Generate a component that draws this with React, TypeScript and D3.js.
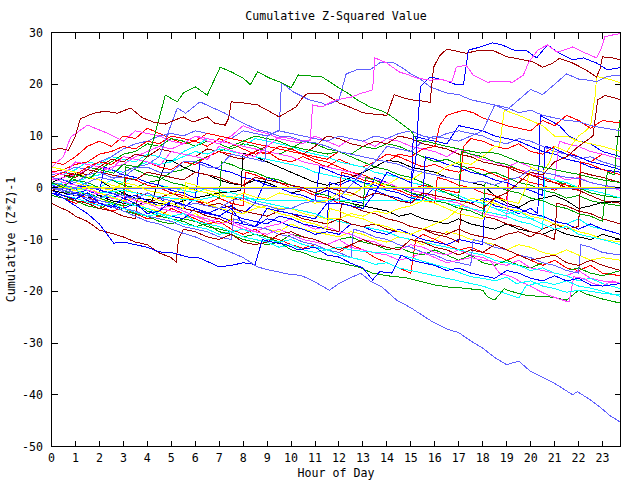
import React from 'react';
import * as d3 from 'd3';

const chartTitle = 'Cumulative Z-Squared Value';
const xTitle = 'Hour of Day';
const yTitle = 'Cumulative (Z*Z)-1';
const hourTicks = [0, 1, 2, 3, 4, 5, 6, 7, 8, 9, 10, 11, 12, 13, 14, 15, 16, 17, 18, 19, 20, 21, 22, 23];
const valueTicks = [30, 20, 10, 0, -10, -20, -30, -40, -50];

// [hour, cumulative value]
const band22 = [[0,5],[0.5,4.5],[1,6],[1.5,8],[2,9],[2.5,8],[3,10],[3.5,9.5],[4,11.5],[4.5,10.5],[5,9.5],[5.5,8.5],[6,9],[6.5,8],[7,9.5],[7.5,8.5],[8,7.5],[8.5,6.5],[9,7],[9.5,5.5],[10,5],[10.5,6],[11,5],[11.5,4],[12,5.5],[12.5,4.5],[13,4],[13.5,5],[14,6.5],[14.5,6],[15,5],[15.5,4],[16,4.5],[16.5,3.5],[17,3],[17.5,4],[18,3.5],[18.5,2.5],[19,1.5],[19.5,2],[20,1],[20.5,0.5],[21,-0.5],[21.5,1],[22,0],[22.5,-1],[23,-1.5],[23.75,-2]];
const band23 = [[0,2],[0.5,3],[1,2.5],[1.5,4],[2,3.5],[2.5,5],[3,6.5],[3.5,7],[4,8.5],[4.5,8],[5,9.5],[5.5,9],[6,8],[6.5,9],[7,8.5],[7.5,7.5],[8,8.5],[8.5,8],[9,7],[9.5,6.5],[10,7.5],[10.5,9],[11,8.5],[11.5,7.5],[12,7],[12.5,6.5],[13,8],[13.5,7.5],[14,8.5],[14.5,8],[15,7],[15.5,6],[16,5],[16.5,5.5],[17,4.5],[17.5,3.5],[18,2.5],[18.5,3],[19,2],[19.5,1],[20,0.5],[20.5,-0.5],[21,-1],[21.5,-2],[22,-1.5],[22.5,-2.5],[23,-3],[23.75,-3.5]];
const band24 = [[0,0.5],[0.5,-0.5],[1,-1],[1.5,-0.5],[2,-1.5],[2.5,-2],[3,-1],[3.5,-2.5],[4,-3],[4.5,-2],[5,-3.5],[5.5,-4],[6,-2],[6.5,-3],[7,-4],[7.5,-3.5],[8,-5],[8.5,-3],[9,2],[9.5,1],[10,0.5],[10.5,-0.5],[11,-1.5],[11.5,-0.5],[12,-1.5],[12.5,-2.5],[13,-3],[13.5,2],[14,1],[14.5,0],[15,-1],[15.5,-2],[16,0],[16.5,-1],[17,-2],[17.5,-3],[18,-2],[18.5,-3.5],[19,-4],[19.5,-5],[20,-4],[20.3,-5],[20.4,14],[20.8,13],[21.2,12],[21.6,10],[22,9],[22.5,8.5],[23,7],[23.75,6]];
const band25 = [[0,4],[0.5,6],[0.8,9.8],[1.5,12.1],[2.2,10.8],[2.75,9.6],[3,9],[3.5,11],[4,10.5],[4.5,10],[5,9],[5.5,8.5],[6,10],[6.5,9],[7,8.5],[7.5,10],[8,12],[8.5,11],[9,10.5],[9.5,9.5],[10,9],[10.5,8.5],[11,10],[11.5,9],[12,8],[12.5,9.5],[13,9],[13.5,8],[14,9.5],[14.5,9],[15,8],[15.5,7.5],[16,7],[16.5,6],[17,7.5],[17.5,6.5],[18,5.5],[18.5,5],[19,4],[19.5,5],[20,4],[20.5,3],[21,2.5],[21.5,1.5],[22,2],[22.5,1],[23,0.5],[23.75,-0.5]];
const band26 = [[0,3],[0.5,2.5],[1,3.5],[1.5,5],[2,4.5],[2.5,6],[3,5.5],[3.5,5],[4,6.5],[4.5,6],[5,5],[5.5,7],[6,8],[6.5,9.5],[7,9],[7.5,8.5],[8,8],[8.5,9.5],[9,9],[9.5,8.5],[10,8],[10.5,7],[11,6.5],[11.5,6],[12,5],[12.5,4.5],[13,4],[13.5,3],[14,2.5],[14.5,2],[15,1],[15.5,0.5],[16,-0.5],[16.5,-1],[17,-1.5],[17.5,-2.5],[18,-3],[18.5,-4],[19,-4.5],[19.5,-5.5],[20,-6],[20.5,-5.5],[21,-6.5],[21.5,-7],[22,-6],[22.5,-7.5],[23,-8],[23.75,-9]];
const band27 = [[0,1.5],[0.5,2],[1,3],[1.5,2.5],[2,4],[2.5,5.5],[3,5],[3.5,6.5],[4,6],[4.5,7.5],[5,7],[5.5,6.5],[6,6],[6.5,7.5],[7,7],[7.5,6],[8,5.5],[8.5,7],[9,8],[9.5,7.5],[10,7],[10.5,6.5],[11,8],[11.5,10],[12,9.5],[12.5,8.5],[13,8],[13.5,9],[14,8.5],[14.5,10],[15,9.5],[15.5,8.5],[16,8],[16.5,7.5],[17,6.5],[17.5,6],[18,5],[18.5,4.5],[19,4],[19.5,3],[20,2.5],[20.5,1.5],[21,1],[21.5,0],[22,-0.5],[22.5,-1.5],[23,-2.5],[23.75,-3]];
const band28 = [[0,-0.5],[0.5,-1],[1,-0.5],[1.5,-1.5],[2,-2],[2.5,-3],[3,-3.5],[3.5,-3],[4,-4],[4.5,-4.5],[5,-5.5],[5.5,-6],[6,-5],[6.5,-6.5],[7,-7],[7.5,-6],[8,-6.5],[8.5,-7.5],[9,-8],[9.5,-8.5],[10,-7],[10.5,-8],[11,-8.5],[11.5,-9],[12,-9.5],[12.5,-8.5],[13,-9],[13.5,-10],[14,-10.5],[14.5,-9.5],[15,-10],[15.5,-11],[16,-10],[16.5,-8.5],[17,-9],[17.5,-10],[18,-10.5],[18.5,-11],[19,-12],[19.5,-11],[20,-11.5],[20.5,-12.5],[21,-13],[21.5,-12],[22,-13],[22.5,-14],[23,-13.5],[23.75,-14]];
const band29 = [[0,1],[0.5,2],[1,2.7],[1.5,2],[2,1.5],[2.5,0],[3,-1],[3.5,-2],[4.2,-2.4],[4.8,5.3],[5,5.3],[5.5,4],[6,3],[6.5,2.5],[7,1.5],[7.5,0.8],[8,0.5],[8.5,1.5],[9,1],[9.5,0],[10,-1],[10.5,-0.5],[11,-1.5],[11.5,-2],[12,-2.5],[12.5,-3],[13,-3.5],[13.5,-4],[14,-4.5],[14.5,-5.5],[15,-5],[15.5,-6],[16,-6.5],[16.5,-7],[17,-6],[17.5,-7],[18,-7.5],[18.5,-8],[19,-7],[19.5,-8],[20,-8.5],[20.5,-9],[21,-8],[21.5,-9],[22,-9.5],[22.5,-10],[23,-9],[23.75,-10]];
const band30 = [[0,-0.5],[0.5,-1],[1,-1.5],[1.5,-2],[2,-1.5],[2.5,-2.5],[3,-3],[3.5,-3.5],[4,-2.5],[4.5,-3],[5,-3.5],[5.5,-2.5],[6,-2],[6.5,-1.5],[7,-1],[7.5,-0.8],[7.9,-0.5],[8,6.7],[8.5,6],[9,5],[9.5,4],[10,3],[10.5,2],[11,1],[11.5,0.5],[12,1],[12.5,2],[13,3],[13.5,4],[14,5.3],[14.5,5],[15,4],[15.5,3.5],[16,3],[16.5,2],[17,1.5],[17.5,1],[18,0.5],[18.5,-1.5],[19,-3],[19.5,-3.8],[20,-2.5],[20.5,-2],[21,-1.5],[21.5,-2.5],[22,-4],[22.5,-3.5],[23,-2.8],[23.75,-2.7]];
const band31 = [[0,-1],[0.5,-2],[1,-3],[1.5,-2.5],[2,-3.5],[2.5,-4.5],[3,-4],[3.5,-5],[4,-6],[4.5,-5.5],[5,-4],[5.5,-5],[6,-6],[6.5,-7],[7,-6.5],[7.5,-8],[8,-9],[8.5,-8],[9,-9.5],[9.5,-10],[10,-11],[10.5,-11.7],[11,-11],[11.5,-12],[12,-12.5],[12.5,-11],[13,-12],[13.5,-13.5],[14,-14.5],[14.5,-15.5],[15,-16.5],[15.2,-10],[15.5,-9],[16,-10],[16.5,-11],[17,-12],[17.5,-11.5],[18,-12.5],[18.5,-13],[19,-14],[19.5,-13],[20,-14],[20.5,-15],[21,-14],[21.5,-15.5],[22,-16],[22.5,-15],[23,-16.5],[23.75,-17]];
const band32 = [[0,-1.5],[0.5,-2],[1,-2.5],[1.5,-3.5],[2,-4],[2.5,-3],[3,-4.5],[3.5,-5],[4,-5.5],[4.5,-6.5],[5,-7],[5.5,-6],[6,-6.5],[6.5,-7.5],[7,-8],[7.5,-8.5],[8,-9.5],[8.5,-9],[9,-9.5],[9.5,-10.5],[10,-9],[10.5,-9.5],[11,-10],[11.5,-11],[12,-10],[12.5,-9.5],[13,-10.5],[13.5,-11],[14,-12],[14.5,-11.5],[15,-12.5],[15.5,-13],[16,-12],[16.5,-13],[17,-14],[17.5,-13],[18,-14.5],[18.5,-15],[19,-14],[19.5,-15],[20,-15.5],[20.5,-14.5],[21,-15],[21.5,-16],[22,-15.5],[22.5,-16.5],[23,-17],[23.75,-16]];
const band33 = [[0,-0.5],[0.5,-1.5],[1,-1],[1.5,-2.5],[2,-3],[2.5,-3.5],[3,-4],[3.5,-3],[4,-4.5],[4.5,-5],[5,-5.5],[5.5,-6],[6,-4],[6.5,-5],[7,-5.5],[7.5,-6.5],[8,-7],[8.5,-7.5],[9,-6],[9.5,-6.5],[10,-7.5],[10.5,-8],[11,-9],[11.5,-8.5],[12,-9],[12.5,-7],[13,-7.5],[13.5,-8.5],[14,-9],[14.5,-8],[15,-9],[15.5,-10],[16,-10.5],[16.5,-11],[17,-10],[17.5,-10.5],[18,-11],[18.1,-2],[18.5,-2.5],[19,-3.5],[19.5,-4],[20,-5],[20.5,-5.5],[21,-6.5],[21.5,-7],[22,-8],[22.5,-7],[23,-8],[23.75,-9]];
const band34 = [[0,0.5],[0.5,0],[1,-1],[1.5,-1.5],[2,-1],[2.5,-2],[3,-2.5],[3.5,-3.5],[4,-3],[4.5,-4],[5,-4.5],[5.5,-5],[6,-5.5],[6.5,-6.5],[7,-6],[7.5,-7],[8,-8],[8.5,-8.5],[9,-7.5],[9.5,-7],[10,-6],[10.5,-7],[11,-8],[11.5,-7.5],[12,-8.5],[12.5,-9],[13,-10],[13.5,-10.5],[14,-11.5],[14.5,-12],[15,-11],[15.5,-11.5],[16,-12.5],[16.5,-13],[17,-12],[17.5,-13],[18,-13.5],[18.5,-14.5],[19,-15],[19.5,-14],[20,-15.5],[20.5,-16],[21,-16.5],[21.5,-17],[22,-16],[22.5,-17.5],[23,-18],[23.75,-18.5]];
const band35 = [[0,0.5],[0.5,1],[1,1.5],[1.5,0.5],[2,0],[2.5,1.5],[3,1],[3.5,2],[4,1],[4.5,0.5],[5,0],[5.5,-0.5],[6,-1],[6.5,0],[7,-0.5],[7.5,-1],[8,-1.5],[8.5,-2.5],[9,-3],[9.5,-3.5],[10,-4],[10.5,-4.5],[11,-5],[11.5,-6],[12,-6.5],[12.5,-7],[13,-7.5],[13.5,-8],[14,-8.5],[14.5,-9.5],[15,-10],[15.5,-10.5],[16,-11],[16.5,-11.5],[17,-12],[17.5,-12.5],[18,-13],[18.5,-14],[19,-14.5],[19.5,-15],[20,-16],[20.5,-15.5],[21,-16.5],[21.5,-17],[22,-18],[22.5,-17.5],[23,-18.5],[23.75,-19.5]];
const band36 = [[0,-0.5],[0.5,0],[1,-1],[1.5,-1.5],[2,-2],[2.5,-1],[3,-1.5],[3.5,-2.5],[4,-3],[4.5,-2],[5,-1],[5.5,-2],[6,-2.5],[6.5,-3.5],[7,-3],[7.5,-4],[8,-4.5],[8.5,-5],[9,-5.5],[9.5,-4.5],[10,-5],[10.5,-6],[11,-6.5],[11.5,-7],[12,-6],[12.5,-7],[13,-7.5],[13.5,-7],[14,-8],[14.5,-8.5],[15,-9],[15.5,-8],[16,-8.5],[16.5,-9],[17,-8],[17.5,-9],[18,-9.5],[18.5,-10],[19,-9],[19.5,-8.5],[20,-9.5],[20.5,-8],[21,-7],[21.5,-8],[22,-7.5],[22.1,3],[22.5,2.5],[23,2],[23.75,1]];
const band37 = [[0,2.5],[0.5,3],[1,4],[1.5,3.5],[2,5],[2.5,6],[3,7.5],[3.5,8.5],[4,9],[4.5,10],[5,10.5],[5.5,10],[6,11],[6.5,10.5],[7,10],[7.5,9.5],[8,11],[8.5,10.5],[9,10],[9.5,11],[10,10.5],[10.5,10],[11,9.5],[11.5,9],[12,10],[12.5,9.5],[13,9],[13.5,10],[14,9.5],[14.5,10.5],[15,11],[15.5,10],[16,9.5],[16.5,10.5],[17,11],[17.5,10.5],[18,10],[18.5,9],[19,8.5],[19.5,9.5],[20,9],[20.5,8],[21,7],[21.5,6.5],[22,5.5],[22.5,6],[23,5],[23.75,4]];
const band38 = [[0,3],[0.5,3.5],[1,4.5],[1.5,5],[2,6.5],[2.5,7],[3,8],[3.5,7.5],[4,9],[4.5,8.5],[5,10],[5.5,9.5],[6,9],[6.5,10.5],[7,10],[7.5,9.5],[8,9],[8.5,8.5],[9,8],[9.5,7.5],[10,7],[10.5,6.5],[11,5.5],[11.5,5],[12,4],[12.5,3],[13,2.5],[13.5,1.5],[14,1],[14.5,0],[15,-0.5],[15.5,0.5],[16,0],[16.5,-0.5],[17,-1],[17.2,8],[17.5,9.5],[18,9],[18.5,8],[19,7.5],[19.5,8.5],[20,7],[20.5,6.5],[21,8],[21.5,7],[22,6],[22.5,5],[23,6.5],[23.75,5.5]];
const band39 = [[0,0],[0.5,0.5],[1,1.5],[1.5,1],[2,2],[2.5,1.5],[3,0.5],[3.5,0],[4,1],[4.5,1.5],[5,3],[5.5,3.5],[6,5],[6.5,6],[7,7],[7.5,8],[8,9],[8.5,10],[9,9.5],[9.5,9],[10,8],[10.5,7.5],[11,7],[11.5,6.5],[12,7],[12.5,6],[13,5],[13.5,4],[14,3.5],[14.5,2.5],[15,2],[15.5,1],[16,0],[16.5,-1],[17,-2],[17.1,7],[17.5,6.5],[18,6],[18.5,5],[19,4.5],[19.5,3.5],[20,3],[20.5,2],[21,1.5],[21.5,0.5],[22,0],[22.5,-1],[23,-1.5],[23.75,-2]];
const band40 = [[0,1],[0.5,0],[1,-0.5],[1.5,0.5],[2,-0.5],[2.5,-1],[3,-2],[3.5,-1.5],[4,-2.5],[4.5,-3.5],[5,-3],[5.5,-4],[6,-4.5],[6.5,-5],[7,-4],[7.5,-5],[8,-6],[8.5,-6.5],[9,-7],[9.5,-5.5],[10,-6],[10.5,-7],[11,-7.5],[11.5,-8],[11.6,1],[12,0.5],[12.5,1.5],[13,0],[13.5,-0.5],[14,-1.5],[14.5,-2],[15,-3],[15.1,10],[15.5,9.5],[16,9],[16.5,8.5],[17,12],[17.5,11.5],[18,11],[18.5,10],[19,9.5],[19.5,9],[20,8],[20.5,7],[21,6.5],[21.5,5.5],[22,5],[22.5,4],[23,3.5],[23.75,3]];
const band41 = [[0,1.5],[0.5,2],[1,2.5],[1.5,3.5],[2,3],[2.5,4],[3,4.5],[3.5,6],[4,7],[4.5,8],[5,7.5],[5.5,8.5],[6,10],[6.5,9.5],[7,9],[7.5,8.5],[8,8],[8.5,7.5],[9,7],[9.5,6.5],[10,6],[10.5,5],[11,4.5],[11.5,4],[12,3.5],[12.5,3],[13,2],[13.5,1.5],[14,1],[14.5,0],[15,-0.5],[15.5,-1],[16,-2],[16.5,-2.5],[17,-3],[17.5,-4],[18,-5],[18.5,-5.5],[19,-6],[19.1,4],[19.5,3.5],[20,3],[20.5,2],[21,1.5],[21.2,9],[21.5,8.5],[22,8],[22.5,7],[23,6.5],[23.75,5.5]];
const band42 = [[0,2],[0.5,1.5],[1,1],[1.5,2],[2,2.5],[2.5,3.5],[3,3],[3.5,4],[4,5],[4.5,4.5],[5,5],[5.5,6],[6,7],[6.5,6.5],[7,7.5],[7.5,7],[8,6.5],[8.5,6],[9,5.5],[9.5,5],[10,4.5],[10.5,4],[11,3],[11.5,2.5],[12,2],[12.5,1.5],[13,1],[13.5,0],[14,-0.5],[14.5,-1],[15,-2],[15.5,-1.5],[16,-2.5],[16.5,-3],[17,-3.5],[17.5,-4],[18,-4.5],[18.5,-5],[19,-5.5],[19.5,-6.5],[20,-7],[20.5,-8],[20.6,2],[21,1.5],[21.5,1],[22,0],[22.5,-0.5],[23,-1],[23.75,-2]];
const band43 = [[0,0],[0.5,-0.5],[1,-1],[1.5,-2],[2,-2.5],[2.5,-3],[3,-4],[3.1,2],[3.5,1.5],[4,0.5],[4.5,0],[5,-1],[5.5,-1.5],[6,-2.5],[6.5,-3],[7,-2],[7.5,-3],[8,-3.5],[8.1,3],[8.5,2.5],[9,1.5],[9.5,1],[10,0],[10.5,-0.5],[11,-1.5],[11.5,-2],[12,-3],[12.1,3],[12.5,2.5],[13,1.5],[13.5,1],[14,0],[14.5,-0.5],[15,-1.5],[15.5,-2],[16,-3],[16.1,2],[16.5,1.5],[17,0.5],[17.5,0],[18,-1],[18.5,-1.5],[19,-2.5],[19.1,4],[19.5,3.5],[20,2.5],[20.5,2],[21,1],[21.5,0.5],[22,-0.5],[22.1,5],[22.5,4.5],[23,3.5],[23.75,2.5]];
const band44 = [[0,-1],[0.5,-1.5],[1,-2.5],[1.5,-3],[2,-4],[2.5,-4.5],[3,-5.5],[3.5,-6],[3.6,-1],[4,-1.5],[4.5,-2.5],[5,-3],[5.5,-4],[6,-4.5],[6.5,-5.5],[7,-6],[7.5,-7],[7.6,-2],[8,-2.5],[8.5,-3.5],[9,-4],[9.5,-5],[10,-5.5],[10.5,-6.5],[11,-7],[11.5,-8],[12,-8.5],[12.1,-3],[12.5,-3.5],[13,-4.5],[13.5,-5],[14,-6],[14.5,-6.5],[15,-7.5],[15.5,-8],[16,-9],[16.5,-9.5],[17,-10.5],[17.1,-4],[17.5,-4.5],[18,-5.5],[18.5,-6],[19,-7],[19.5,-7.5],[20,-8.5],[20.5,-9],[21,-10],[21.1,-3],[21.5,-3.5],[22,-4.5],[22.5,-5],[23,-6],[23.75,-7]];
const band45 = [[0,2],[0.5,1.5],[1,0.5],[1.5,0],[2,-1],[2.2,4],[2.5,3.5],[3,2.5],[3.5,2],[4,1],[4.5,0.5],[5,-0.5],[5.5,-1],[6,-2],[6.2,5],[6.5,4.5],[7,3.5],[7.5,3],[8,2],[8.5,1.5],[9,0.5],[9.5,0],[10,-1],[10.5,-1.5],[11,-2.5],[11.2,4],[11.5,3.5],[12,2.5],[12.5,2],[13,1],[13.5,0.5],[14,-0.5],[14.5,-1],[15,-2],[15.5,-2.5],[15.6,6],[16,5.5],[16.5,4.5],[17,4],[17.5,3],[18,2.5],[18.5,1.5],[19,1],[19.5,0],[20,-0.5],[20.5,-1.5],[20.6,8],[21,7.5],[21.5,6.5],[22,6],[22.5,5],[23,4.5],[23.75,3.5]];
const band46 = [[0,0.5],[0.5,0],[1,-1],[1.5,-1.5],[2,-2.5],[2.5,-3],[3,-4],[3.5,-4.5],[4,-5.5],[4.5,-6],[5,-6.5],[5.5,-7.5],[6,-8],[6.5,-8.5],[7,-9.5],[7.5,-10],[7.6,-6],[8,-6.5],[8.5,-7.5],[9,-8],[9.5,-9],[10,-9.5],[10.5,-10.5],[11,-11],[11.5,-12],[12,-12.5],[12.5,-13.5],[12.6,-8],[13,-8.5],[13.5,-9.5],[14,-10],[14.5,-11],[15,-11.5],[15.5,-12.5],[16,-13],[16.5,-14],[17,-14.5],[17.5,-15],[17.6,-10],[18,-10.5],[18.5,-11.5],[19,-12],[19.5,-13],[20,-13.5],[20.5,-14.5],[21,-15],[21.5,-16],[22,-16.5],[22.1,-11],[22.5,-11.5],[23,-12.5],[23.75,-13]];
const band47 = [[0,3],[0.5,2.5],[1,1.5],[1.5,1],[2,0],[2.5,-0.5],[3,-1.5],[3.1,4],[3.5,3.5],[4,2.5],[4.5,2],[5,1],[5.5,0.5],[6,-0.5],[6.5,-1],[7,-2],[7.1,5],[7.5,4.5],[8,3.5],[8.5,3],[9,2],[9.5,1.5],[10,0.5],[10.5,0],[11,-1],[11.5,-1.5],[12,-2.5],[12.5,-3],[13,-4],[13.1,2],[13.5,1.5],[14,0.5],[14.5,0],[15,-1],[15.5,-1.5],[16,-2.5],[16.5,-3],[17,-4],[17.5,-4.5],[18,-5.5],[18.1,1],[18.5,0.5],[19,-0.5],[19.5,-1],[20,-2],[20.5,-2.5],[21,-3.5],[21.5,-4],[22,-5],[22.5,-5.5],[23,-6.5],[23.2,3],[23.5,2.5],[23.6,8],[23.75,14]];
const band48 = [[0,4],[0.5,3.5],[1,3],[1.5,2],[2,1.5],[2.5,0.5],[3,0],[3.5,-1],[4,-1.5],[4.5,-2.5],[5,-3],[5.5,-4],[5.6,1],[6,0.5],[6.5,-0.5],[7,-1],[7.5,-2],[8,-2.5],[8.5,-3.5],[9,-4],[9.5,-5],[10,-5.5],[10.5,-6.5],[11,-7],[11.5,-8],[11.6,-4],[12,-4.5],[12.5,-5.5],[13,-6],[13.5,-7],[14,-7.5],[14.5,-8.5],[15,-9],[15.5,-8],[16,-7],[16.5,-6],[17,-4],[17.5,-2],[18,-2.5],[18.5,-3],[19,-4],[19.5,-4.5],[20,-5.5],[20.5,-6],[21,-7],[21.5,-7.5],[22,-8.5],[22.5,-9],[23,-10],[23.75,-10.5]];

const flatYellow = [[0,0.1],[23.75,0.1]];
const flatBlue = [[0,-0.2],[23.75,-0.2]];
const flatCyan = [[0,1],[1,0],[2,-1],[3,-0.5],[4,-1.5],[5,-2],[6,-2.5],[7,-1.5],[8,-2],[9,-2.4],[17.4,-2.4],[18,-3],[18.5,-4],[19,-5],[19.5,-4.5],[20,-6],[20.5,-7],[21,-8],[21.5,-7.5],[22,-9],[23,-10],[23.75,-11]];
const greenLow = [[0,0],[0.5,-0.5],[1,-1.5],[1.5,-1],[2,-2],[2.5,-2.8],[3,-3.5],[3.5,-3],[4,-4.5],[4.5,-5.5],[5,-6],[5.5,-6.5],[6,-7.5],[6.5,-7],[7,-8.5],[7.5,-9],[8,-10],[8.5,-10.5],[9,-11],[9.5,-10.5],[10,-12],[10.5,-12.5],[11,-13.5],[11.5,-14],[12,-14.5],[12.5,-15],[12.8,-15.3],[13.4,-16.5],[14,-17],[14.8,-17.4],[15.5,-18.2],[16,-18.8],[16.6,-19.2],[17.2,-19.4],[17.6,-19.6],[18,-19.8],[18.2,-21.1],[18.5,-21.7],[18.9,-19.5],[19.1,-19.9],[19.7,-20.7],[20.1,-20.9],[20.8,-21.1],[21.5,-21.7],[22,-19.8],[22.3,-20.5],[23,-21.5],[23.75,-22.3]];
const magentaLow = [[0,2],[0.5,1],[1,0.5],[1.5,-0.5],[2,-1],[2.5,-2],[3,-1.5],[3.5,-2.5],[4,-3],[4.5,-4],[5,-3.5],[5.5,-4.5],[6,-5.5],[6.5,-6],[7,-7],[7.5,-6.5],[8,-7.5],[8.5,-8.5],[9,-9],[9.5,-8],[10,-9],[10.5,-10],[11,-10.5],[11.5,-11],[12,-10],[12.5,-11.5],[13,-12],[13.5,-12.6],[14,-13],[14.5,-14],[15,-13.5],[15.5,-12.5],[16,-13.5],[16.5,-14.5],[17,-14],[17.5,-13.5],[18,-14],[18.3,-14],[18.7,-16.5],[19.2,-17.2],[19.6,-18.2],[20,-19],[20.3,-19.8],[20.7,-20.7],[21.2,-21.5],[21.6,-22.1],[21.8,-17.2],[22.2,-17.5],[22.6,-18.5],[23,-19],[23.4,-18],[23.75,-18.5]];
const cyanLow = [[0,1],[0.5,0.5],[1,-0.5],[1.5,-1.2],[2,-2],[2.5,-1.5],[3,-2.8],[3.5,-3.5],[4,-4],[4.5,-5],[5,-5.5],[5.5,-5],[6,-6.5],[6.5,-7],[7,-7.5],[7.5,-8.5],[8,-8],[8.5,-9],[9,-10],[9.5,-10.5],[10,-10],[10.5,-11],[11,-11.5],[11.5,-12],[12,-11.5],[12.5,-12],[13,-12.3],[14,-12.6],[14.5,-13],[15,-13.5],[15.5,-14.2],[16.5,-15.5],[17.5,-17.2],[18,-17.5],[18.5,-18],[19,-17.3],[19.4,-18.5],[20,-18],[20.5,-19],[21,-19.5],[21.5,-20.2],[22,-19.8],[22.5,-20],[23,-20.4],[23.75,-20.7]];
const cyanLow2 = [[0,-1],[0.5,-1.5],[1,-2],[1.5,-2.8],[2,-3.5],[2.5,-3],[3,-4],[3.5,-4.8],[4,-5.5],[4.5,-5],[5,-6],[5.5,-7],[6,-7.5],[6.5,-8],[7,-9],[7.5,-8.5],[8,-9.5],[8.5,-10],[9,-10.5],[9.5,-11.5],[10,-11],[10.5,-12],[11,-12.5],[11.5,-12],[12,-13],[12.5,-13.5],[13,-14],[13.5,-14.8],[14,-14.5],[14.5,-15.5],[15,-16],[15.5,-16.5],[16,-17],[16.5,-17.5],[17,-18],[17.5,-18.5],[18,-19],[18.5,-19.8],[19,-20.5],[19.5,-21.3],[19.8,-19],[20.2,-18.5],[20.6,-18.3],[21,-18.7],[21.5,-18],[22,-19],[22.5,-19.4],[23,-20],[23.75,-21]];
const darkRedLow = [[0,-3],[0.3,-3.7],[0.7,-4.5],[1,-5.5],[1.5,-6.5],[2,-8.2],[2.5,-8.8],[3,-9.5],[3.5,-10.5],[4,-11],[4.5,-12.6],[5,-13.5],[5.2,-14.4],[5.3,-10],[5.5,-8],[6,-8.5],[6.5,-9.5],[7,-10],[7.5,-9],[8,-10.5],[8.5,-11],[9,-10.5],[9.5,-9],[10,-8.5],[10.5,-9.5],[11,-10],[11.5,-11],[12,-12],[12.5,-11],[13,-10],[13.5,-11],[14,-11.5],[14.5,-12],[15,-10],[15.5,-10.5],[16,-11.5],[16.5,-12],[17,-13],[17.5,-12],[18,-12.5],[18.5,-11],[19,-12],[19.5,-13],[20,-14],[20.5,-13.5],[21,-13],[21.5,-14.5],[22,-15],[22.5,-14],[23,-15],[23.75,-16]];
const blueLow = [[0,-1],[0.5,-2],[1,-3.5],[1.5,-5],[2,-7],[2.6,-10.7],[3,-10.5],[3.5,-11],[4,-11.5],[4.5,-12.4],[5,-12.5],[5.7,-13.4],[6.2,-13.6],[7,-15.3],[7.5,-15],[8,-14.5],[8.5,-14.8],[8.8,-10],[9.2,-10.5],[9.8,-11],[10.3,-12],[11,-11.5],[11.5,-13],[12,-13.4],[12.5,-14.6],[13,-15.5],[13.4,-17.8],[13.7,-16.2],[14.2,-16.5],[14.6,-13],[15,-14],[15.5,-14.5],[16,-15],[16.5,-16],[17,-15.5],[17.5,-16.5],[18,-17],[18.5,-17.5],[19,-16],[19.5,-16.5],[20,-17.5],[20.5,-18],[21,-17],[21.5,-18],[22,-17.5],[22.5,-18.8],[23,-19],[23.75,-18.5]];
const lightBlueLow = [[0,0],[0.5,-0.8],[1,-1.5],[1.5,-2],[2,-3],[2.5,-3.6],[3,-4.5],[3.5,-5.5],[4,-6.5],[4.5,-7],[5,-8],[5.5,-8.8],[6,-9.5],[6.5,-10.5],[7,-11.5],[7.5,-12.5],[8,-13.5],[8.6,-15.3],[9,-15.8],[9.5,-16.3],[10,-16.8],[10.4,-16.9],[11,-18.2],[11.6,-19.8],[12,-18.5],[12.4,-17.6],[12.9,-16.5],[13.3,-18],[13.8,-19.2],[14.4,-21.7],[15,-23.2],[15.9,-25.9],[16.5,-27.3],[17,-28],[17.5,-29.6],[18,-31],[18.5,-32.8],[19,-34.2],[19.5,-33.5],[20,-35.5],[20.5,-36.6],[21,-37.8],[21.75,-40],[21.95,-39.4],[22.5,-41],[22.9,-42.4],[23.3,-44],[23.75,-45.3]];
const yellowHigh = [[0,1],[0.5,0.2],[1,-0.5],[1.5,0],[2,-1],[2.5,-1.8],[3,-2.5],[3.5,-2],[4,-3],[4.5,-3.5],[5,-2.5],[5.5,-2],[6,-2],[6.5,-3],[7,-4],[7.5,-4.5],[8,-5],[8.5,-4],[9,-3.5],[9.5,-4],[10,-4],[10.5,-5],[11,-5.5],[11.5,-6],[12,-6],[12.5,-5],[13,-5.5],[13.5,-4.5],[14,-5],[14.5,-4],[15,-3.5],[15.5,-2.5],[16,-3],[16.5,-4],[17,-5],[17.5,-5.5],[18,-6],[18.5,-2],[19,-2.5],[19.5,-3],[19.8,0],[20,4],[20.5,3],[20.8,5],[21,8],[21.5,7],[22,10],[22.3,11],[22.5,12],[22.7,18],[22.75,21.5],[23.25,21],[23.75,20.3]];
const yellowMid = [[0,2],[0.5,1.5],[1,1],[1.5,0.3],[2,0],[2.5,-0.5],[3,1],[3.5,0.5],[4,-0.5],[4.5,-1],[5,-1.5],[5.5,0],[6,-0.5],[6.5,-1],[7,-1.5],[7.5,-2],[8,-1],[8.5,-1.8],[9,-2.2],[9.5,-1],[10,-1.5],[10.5,-2],[11,-3],[11.5,-2.5],[12,-1],[12.5,-1.5],[13,0],[13.5,1],[14,0.5],[14.5,2],[15,1.5],[15.5,3],[16,2.5],[16.5,4],[17,5],[17.5,4.5],[18,6],[18.5,8],[18.7,8],[18.9,15],[19.5,14],[20,13],[20.5,12],[21,10],[21.5,10],[22,9],[22.5,8.5],[23,8],[23.75,7]];
const darkRedLate = [[0,3],[0.5,2.5],[1,2],[1.5,3.5],[2,3],[2.5,2.5],[3,2],[3.5,1.5],[4,3],[4.5,2.5],[5,2],[5.5,1.5],[6,3],[6.5,2.5],[7,2],[7.5,1],[8,0.5],[8.5,2],[9,1.5],[9.5,1],[10,0.5],[10.5,0],[11,-1],[11.5,0],[12,-0.5],[12.5,-1],[13,-2],[13.5,-1],[14,-1.5],[14.5,-2.5],[15,-3],[15.5,-1],[16,-1.5],[16.5,-2],[17,-2.5],[17.5,-3],[18,-4],[18.5,-2],[19,-1],[19.5,1],[20,3],[20.5,2.5],[21,5],[21.5,6],[22,8],[22.6,10],[22.8,17],[23.1,17.8],[23.4,17.5],[23.75,17]];
const redHigh = [[0,2],[0.5,3],[1,2.5],[1.5,4],[2,5],[2.5,4.5],[3,6],[3.5,5.5],[4,5],[4.5,4],[5,3.5],[5.5,5],[6,4.5],[6.5,6],[7,7],[7.5,6.5],[8,6],[8.5,7],[9,6.5],[9.5,8],[10,7.5],[10.5,6.5],[11,6],[11.5,5.5],[12,7],[12.5,6.5],[13,6],[13.5,5.5],[14,5],[14.5,6.5],[15,6],[15.5,7.5],[16,8],[16.2,12],[16.5,14],[17.2,15],[17.6,14.5],[18,13.5],[18.5,12.8],[19,12],[19.5,11.5],[20,11],[20.5,13],[21,12],[21.5,14],[22,13],[22.5,11.5],[23,13],[23.75,12.5]];
const lightBlueA = [[0,2],[0.5,1.5],[1,1],[1.5,2.5],[2,3],[2.5,2],[3,2],[3.5,3.8],[4,4],[4.5,3],[5,3],[5.5,5],[6,5],[6.5,4],[7,4],[7.5,6.5],[8,6],[8.5,5.5],[8.9,5],[9,10],[9.5,11.2],[9.6,20.3],[10.1,18.5],[10.75,17],[11.2,16.5],[11.5,16],[12,17],[12.3,22],[12.75,22.8],[13.3,22.8],[13.75,24.3],[14.3,24.1],[14.7,23],[15,22],[15.4,21],[15.8,19.5],[16.5,18.3],[17,18],[17.5,17],[18,16.5],[18.5,16],[19,15.5],[19.5,14.5],[20,15],[20.5,14],[21,13.5],[21.5,13],[22,12.8],[22.5,12],[23,11.6],[23.75,11]];
const lightBlueB = [[0,1],[0.5,0.5],[1,0],[1.5,1],[2,2],[2.5,1.5],[3,3],[3.5,4],[4,4.5],[4.5,6],[4.75,9.2],[5.25,15.4],[5.6,14.4],[6.2,16.6],[6.75,15.4],[7.2,14.5],[7.5,13.7],[8,12.5],[8.6,11.2],[9,10.8],[9.5,10],[10,9.8],[10.5,9],[11,8.7],[11.5,8],[12,7],[12.5,6.5],[13,6],[13.5,5.5],[14,5],[14.5,4.5],[15,3.5],[15.5,3],[16,2.5],[16.5,2],[17,1.5],[17.5,1],[18,1.2],[18.5,0.5],[19,1.5],[19.5,2],[20,3.5],[20.5,3],[21,2.5],[21.5,2],[22,1.8],[22.5,1],[23,0.5],[23.75,0]];
const lightBlueC = [[0,0],[0.5,-0.5],[1,-1],[1.5,-1.5],[2,-2],[2.5,-1],[3,-1.5],[3.5,-2.2],[4,-1],[4.5,-2],[5,-2.5],[5.5,-3.5],[6,-3],[6.5,-3.5],[7,-4],[7.5,-2.5],[8,-2],[8.5,-3],[9,-3.5],[9.5,-4.2],[10,-4],[10.5,-3],[11,-2.5],[11.5,-3],[12,-2],[12.5,0.5],[13,3],[13.5,5],[14,8],[14.5,7.5],[15,7],[15.5,9],[16,10],[16.5,9.5],[17,9],[17.5,10],[18,11],[18.3,14],[18.5,16],[19,15],[19.5,17],[20,19],[20.5,18],[21,20],[21.5,22],[22,21],[22.4,20.8],[22.75,20.5],[23.2,21.5],[23.75,21.8]];
const greenTop = [[0,1],[0.5,0],[1,2.5],[1.6,1.8],[2,3.5],[2.6,2.8],[3,4.5],[3.6,4],[4,6],[4.25,9.2],[4.75,17.9],[5.25,16.6],[5.5,18.3],[6,19.5],[6.5,17.9],[7.04,23.3],[7.5,22.4],[8,21.2],[8.3,19.9],[8.6,22.4],[9.1,21.2],[9.6,20.3],[10,19.3],[10.3,21.8],[10.8,21.6],[11.3,21.4],[11.7,20.2],[12,19.3],[12.4,18.2],[12.75,17],[13.3,15.6],[13.7,15],[14,14.4],[14.4,13.1],[15,11],[15.25,9.2],[15.8,8.8],[16.3,8.2],[17,7.5],[17.9,6.7],[18.3,6.9],[18.7,6.5],[19.5,5],[20.1,4.4],[20.5,4],[21.5,3],[22,2.6],[22.5,2],[23,1.5],[23.75,1]];
const darkRedTop = [[0,7.3],[0.4,7.6],[0.7,7.2],[1,10],[1.2,13.3],[1.75,14.4],[2.25,14.8],[2.75,14.4],[3.3,15.4],[3.8,13.5],[4.25,12.7],[4.75,12.3],[5.1,13],[5.5,13.7],[5.9,12.7],[6.2,13.2],[6.5,13.7],[6.8,12.5],[7.25,12.1],[7.4,13.5],[7.5,16.6],[8,16.4],[8.6,16],[9,15],[9.5,13.7],[10.2,15.6],[10.5,17.5],[10.7,18.3],[11.3,18.3],[11.7,17.3],[12,16.4],[12.5,15.5],[13,14.5],[13.5,14.2],[14,14],[14.3,18],[14.6,17.5],[15,17],[15.4,16.8],[15.8,16.5],[15.95,23.3],[16.2,25.5],[16.5,26.8],[16.9,26.4],[17.3,26],[17.8,26.5],[18.4,26.6],[19,25.3],[19.5,24.9],[20.1,24.3],[20.5,23.3],[20.9,24],[21.2,25],[21.75,24.1],[22.3,22.8],[22.75,21.4],[22.9,23],[23,25.3],[23.4,25.1],[23.75,24.7]];
const blueTop = [[0,-1],[0.5,-1.5],[1,-2.2],[1.5,-1],[2,-3],[2.5,-3.8],[3,-2],[3.5,-3],[4,-5],[4.5,-4.5],[5,-2.5],[6,-4],[7,-5.5],[7.5,-4],[8,-7],[8.5,-7.5],[9,-4],[10,-5],[11,-6],[11.5,-3],[12,-3],[13,-4],[13.5,-1],[14,3],[14.5,2],[15,1],[15.2,5],[15.3,13],[15.4,19.5],[15.8,21.4],[16.4,20.8],[16.9,19.9],[17.2,20],[17.4,26.6],[17.9,27.2],[18.4,28],[18.8,27.6],[19.3,26.6],[19.8,26.6],[20.25,25.1],[20.7,27.6],[21.2,26],[21.75,24.7],[22.2,25.1],[22.75,24.1],[23.2,22.8],[23.6,23.1],[23.75,23.3]];
const magentaTop = [[0,3],[0.5,2.5],[1,5],[1.5,4.5],[2,4],[2.5,3.5],[3,6],[3.5,5.5],[4,5],[4.5,4.2],[5,7],[5.5,6.5],[6,6],[6.5,5.5],[7,8],[7.5,7.2],[8,6.5],[8.5,6],[9,8],[9.5,9.8],[10,9.5],[10.4,9],[10.8,9.2],[10.9,16],[11.3,15.6],[11.6,16.4],[11.9,17],[12.5,17.5],[12.9,18.2],[13.4,18.9],[13.5,25.1],[14,24.1],[14.5,22.4],[14.9,21.8],[15.25,21.2],[15.8,20.8],[16.3,20.9],[16.7,20.4],[16.9,23.3],[17.3,23.7],[17.6,21.8],[18.2,20.4],[18.7,20.6],[19.25,20.4],[19.7,21.8],[19.9,24.1],[20.3,26.6],[20.7,27.6],[21.1,26.2],[21.4,26.6],[21.75,27.2],[22.3,26],[22.75,25.1],[22.95,27],[23.1,29.2],[23.5,29.6],[23.75,29.8]];

const seriesData = [
  band22, band23, band24, band25, band26, band27, band28, band29, band30, band31, band32, band33,
  band34, band35, band36, band37, band38, band39, band40, band41, band42, band43, band44, band45,
  band46, band47, band48, flatYellow, flatBlue, flatCyan, greenLow, magentaLow, cyanLow, cyanLow2,
  darkRedLow, blueLow, lightBlueLow, yellowHigh, yellowMid, darkRedLate, redHigh, lightBlueA,
  lightBlueB, lightBlueC, greenTop, darkRedTop, blueTop, magentaTop,
];

const seriesColors = [
  '#ff0000', '#00a000', '#0000ff', '#ff40ff', '#00ffff', '#a00000', '#ffff00', '#000000', '#000000', '#ff0000', '#00a000', '#0000ff',
  '#ff40ff', '#00ffff', '#a00000', '#6060ff', '#ff0000', '#00a000', '#0000ff', '#ff40ff', '#00ffff', '#ff0000', '#a00000', '#0000ff',
  '#6060ff', '#00a000', '#ffff00', '#ffff00', '#6060ff', '#00ffff', '#00a000', '#ff40ff', '#00ffff', '#00ffff',
  '#a00000', '#0000ff', '#6060ff', '#ffff00', '#ffff00', '#a00000', '#ff0000', '#6060ff',
  '#6060ff', '#6060ff', '#00a000', '#a00000', '#0000ff', '#ff40ff',
];

export default function App() {
  const x = d3.scaleLinear().domain([0, 23.75]).range([51.5, 620.5]);
  const y = d3.scaleLinear().domain([-50, 30]).range([446.5, 32.5]);
  const line = d3.line<number[]>().x((d) => x(d[0])).y((d) => y(d[1]));
  const font = "'DejaVu Sans Mono', monospace";
  const snap = (v: number) => Math.round(v - 0.5) + 0.5;
  const tick = 6;
  const [x0, x1] = x.range();
  const [y0, y1] = y.range();

  return (
    <div style={{ position: 'absolute', left: 0, top: 0 }}>
      <svg width={640} height={480} style={{ display: 'block', background: '#fff' }}>
        <rect x={0} y={0} width={640} height={480} fill="#fff" />
        <defs>
          <clipPath id="plotArea">
            <rect x={51} y={32} width={571} height={416} />
          </clipPath>
        </defs>
        <g clipPath="url(#plotArea)">
          {seriesData.map((s, i) => (
            <path key={i} d={line(s as number[][]) || ''} fill="none" stroke={seriesColors[i]} strokeWidth={1} shapeRendering="crispEdges" />
          ))}
        </g>
        <g stroke="#000" strokeWidth={1} shapeRendering="crispEdges" fill="none">
          <rect x={x0} y={y1} width={x1 - x0} height={y0 - y1} />
          {valueTicks.map((v) => (
            <g key={'yt' + v}>
              <line x1={x0} x2={x0 + tick} y1={snap(y(v))} y2={snap(y(v))} />
              <line x1={x1} x2={x1 - tick} y1={snap(y(v))} y2={snap(y(v))} />
            </g>
          ))}
          {hourTicks.map((h) => (
            <g key={'xt' + h}>
              <line x1={snap(x(h))} x2={snap(x(h))} y1={y0} y2={y0 - tick} />
              <line x1={snap(x(h))} x2={snap(x(h))} y1={y1} y2={y1 + tick} />
            </g>
          ))}
        </g>
        <g fontFamily={font} fontSize={11.6} fill="#000">
          {valueTicks.map((v) => (
            <text key={'yl' + v} x={43} y={y(v) + 4} textAnchor="end">{v}</text>
          ))}
          {hourTicks.map((h) => (
            <text key={'xl' + h} x={x(h)} y={462} textAnchor="middle">{h}</text>
          ))}
          <text x={(x0 + x1) / 2} y={20} textAnchor="middle">{chartTitle}</text>
          <text x={(x0 + x1) / 2} y={477} textAnchor="middle">{xTitle}</text>
          <text transform={`translate(15, ${(y0 + y1) / 2}) rotate(-90)`} textAnchor="middle">{yTitle}</text>
        </g>
      </svg>
    </div>
  );
}
